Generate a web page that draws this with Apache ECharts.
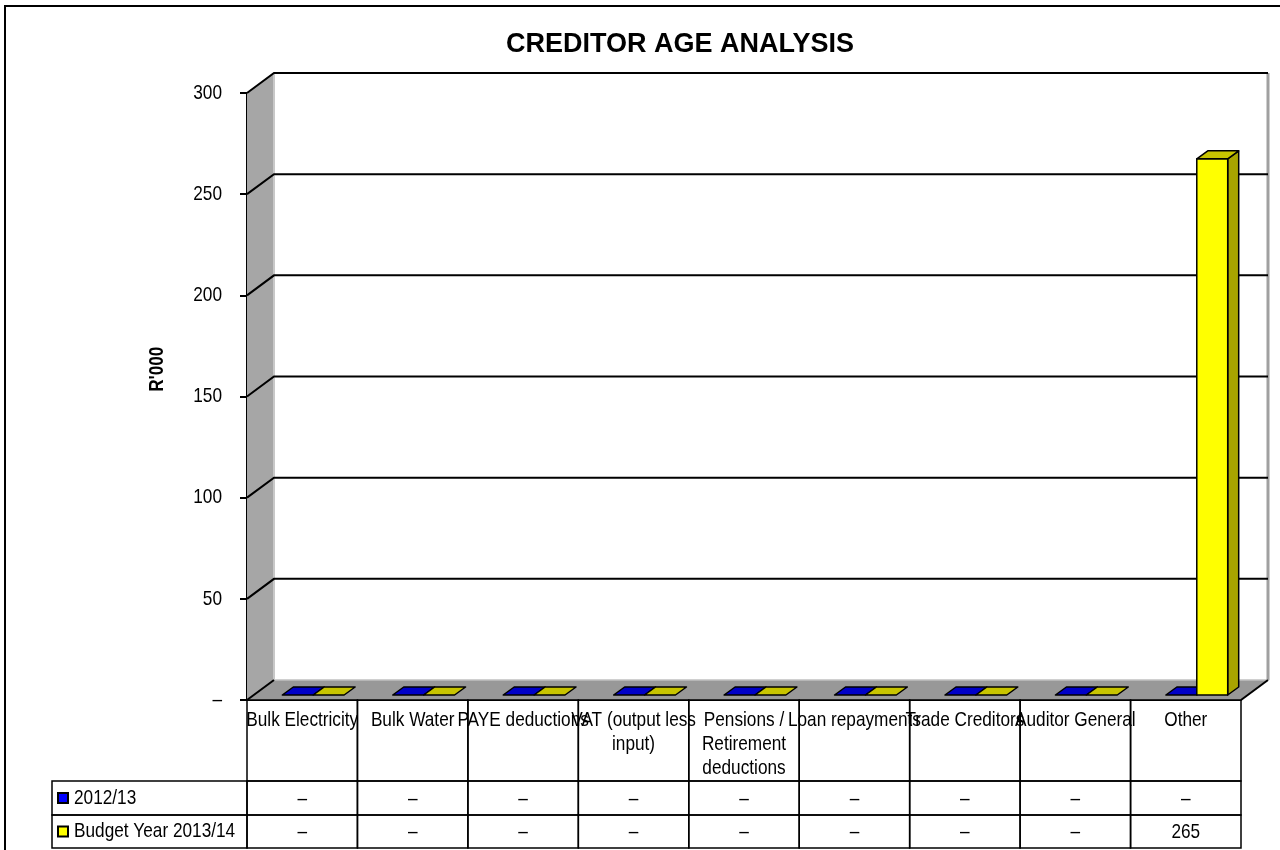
<!DOCTYPE html>
<html>
<head>
<meta charset="utf-8">
<script src="https://cdn.jsdelivr.net/npm/echarts@6/dist/echarts.min.js"></script>
<style>
  html, body { margin: 0; padding: 0; background: #fff; }
  #chart { width: 1280px; height: 850px; }
</style>
</head>
<body>
<div id="chart"></div>
<script>
// ---------- data ----------
const categories = ['Bulk Electricity', 'Bulk Water', 'PAYE deductions', 'VAT (output less input)',
  'Pensions / Retirement deductions', 'Loan repayments', 'Trade Creditors', 'Auditor General', 'Other'];
const categoryLabels = ['Bulk Electricity', 'Bulk Water', 'PAYE deductions', 'VAT (output less\ninput)',
  'Pensions /\nRetirement\ndeductions', 'Loan repayments', 'Trade Creditors', 'Auditor General', 'Other'];
const seriesNames = ['2012/13', 'Budget Year 2013/14'];
const values2012 = [0, 0, 0, 0, 0, 0, 0, 0, 0];
const valuesBudget = [0, 0, 0, 0, 0, 0, 0, 0, 265];
const yTicks = [0, 50, 100, 150, 200, 250, 300];
const titleText = 'CREDITOR AGE ANALYSIS';
const yAxisTitle = "R'000";

// ---------- style constants ----------
const SANS = '"Liberation Sans", Arial, sans-serif';
const NARROW_SCALE = 0.82;     // emulate Arial Narrow
const FONT_PX = 21;
const DEPTH = [27, -20];       // wall depth offset
const BAR_SHIFT = [11, -5];    // bar front plane offset from front
const BAR_DEPTH = [11, -8];    // bar depth
const BAR_FRAC = 0.28;         // bar width as fraction of category band
const LABEL_ROW_H = 81;
const ROW_H = [34, 33];
const HEADER_W = 195;
const colors = [
  { front: '#0000ff', side: '#00007a', top: '#0000c8' },
  { front: '#ffff00', side: '#a8a400', top: '#c8c400' }
];

const fmt = v => (v === 0 ? '–' : String(v));

function ntext(x, y, text, extra) {
  return Object.assign({
    type: 'text', x: x, y: y, scaleX: NARROW_SCALE,
    style: Object.assign({ text: text, fill: '#000', font: FONT_PX + 'px ' + SANS, align: 'center', verticalAlign: 'middle' },
      (extra && extra.style) || {})
  }, (extra && extra.el) || {});
}

const chart = echarts.init(document.getElementById('chart'), null, { renderer: 'canvas' });

function wallsRender(params, api) {
  const cs = params.coordSys;
  const x0 = cs.x, y0 = cs.y, w = cs.width, h = cs.height;
  const dx = DEPTH[0], dy = DEPTH[1];
  return {
    type: 'group',
    children: [
      { type: 'rect', shape: { x: x0 + dx, y: y0 + dy, width: w, height: h }, style: { fill: '#ffffff' } },
      { type: 'polygon', shape: { points: [[x0, y0], [x0 + dx, y0 + dy], [x0 + dx, y0 + h + dy], [x0, y0 + h]] },
        style: { fill: '#a6a6a6' } },
      { type: 'polygon', shape: { points: [[x0, y0 + h], [x0 + dx, y0 + h + dy], [x0 + w + dx, y0 + h + dy], [x0 + w, y0 + h]] },
        style: { fill: '#989898' } },
      { type: 'line', shape: { x1: x0 + dx, y1: y0 + dy, x2: x0 + dx, y2: y0 + h + dy }, style: { stroke: '#c8c8c8', lineWidth: 2 } },
      { type: 'line', shape: { x1: x0 + w + dx, y1: y0 + dy, x2: x0 + w + dx, y2: y0 + h + dy }, style: { stroke: '#a0a0a0', lineWidth: 3 } },
      { type: 'line', shape: { x1: x0 + dx, y1: y0 + h + dy, x2: x0 + w + dx, y2: y0 + h + dy }, style: { stroke: '#c0c0c0', lineWidth: 1.5 } },
      { type: 'line', shape: { x1: x0 + w, y1: y0 + h, x2: x0 + w + dx, y2: y0 + h + dy }, style: { stroke: '#000', lineWidth: 2 } },
      // y axis title
      {
        type: 'text', x: x0 - 90, y: y0 + h * 0.455, rotation: Math.PI / 2, scaleX: NARROW_SCALE,
        style: { text: yAxisTitle, fill: '#000', font: 'bold 21px ' + SANS, align: 'center', verticalAlign: 'middle' }
      }
    ]
  };
}

function gridRender(params, api) {
  const cs = params.coordSys;
  const t = api.value(0);
  const y = api.coord([0, t])[1];
  const x0 = cs.x;
  const pts = t === 0
    ? [[x0, y], [x0 + DEPTH[0], y + DEPTH[1]]]
    : [[x0, y], [x0 + DEPTH[0], y + DEPTH[1]], [x0 + cs.width + DEPTH[0], y + DEPTH[1]]];
  return {
    type: 'group',
    children: [
      { type: 'polyline', shape: { points: pts }, style: { stroke: '#000', lineWidth: 2, fill: null } },
      ntext(x0 - 25, y, fmt(t), { style: { align: 'right' } })
    ]
  };
}

function barRender(k) {
  return function (params, api) {
    const i = api.value(0), v = api.value(1);
    const base = api.coord([i, 0]);
    const top = api.coord([i, v]);
    const bw = api.size([1, 0])[0];
    const barW = bw * BAR_FRAC;
    const x = base[0] + BAR_SHIFT[0] + (k === 0 ? -barW : 0);
    const yb = base[1] + BAR_SHIFT[1];
    const yt = top[1] + BAR_SHIFT[1];
    const dx = BAR_DEPTH[0], dy = BAR_DEPTH[1];
    const c = colors[k];
    const st = { stroke: '#000', lineWidth: 1.5, lineJoin: 'round' };
    const children = [];
    if (yb - yt > 0.5) {
      children.push({ type: 'polygon', shape: { points: [[x + barW, yt], [x + barW + dx, yt + dy], [x + barW + dx, yb + dy], [x + barW, yb]] },
        style: Object.assign({ fill: c.side }, st) });
      children.push({ type: 'rect', shape: { x: x, y: yt, width: barW, height: yb - yt },
        style: Object.assign({ fill: c.front }, st) });
    }
    children.push({ type: 'polygon', shape: { points: [[x, yt], [x + dx, yt + dy], [x + barW + dx, yt + dy], [x + barW, yt]] },
      style: Object.assign({ fill: c.top }, st) });
    return { type: 'group', children: children };
  };
}

function tableRender(params, api) {
  const i = api.value(0);
  const p = api.coord([i, 0]);
  const bw = api.size([1, 0])[0];
  const x = p[0] - bw / 2;
  const children = [];
  // label cell borders
  children.push({ type: 'rect', shape: { x: x, y: p[1], width: bw, height: LABEL_ROW_H },
    style: { fill: null, stroke: '#000', lineWidth: 1.5 } });
  // category label (top of label cell)
  children.push(ntext(p[0], p[1] + 8, categoryLabels[i], { style: { verticalAlign: 'top', lineHeight: 24 } }));
  let y = p[1] + LABEL_ROW_H;
  const vals = [api.value(1), api.value(2)];
  for (let r = 0; r < 2; r++) {
    if (i === 0) {
      const hx = x - HEADER_W;
      children.push({ type: 'rect', shape: { x: hx, y: y, width: HEADER_W, height: ROW_H[r] },
        style: { fill: null, stroke: '#000', lineWidth: 1.5 } });
      children.push({ type: 'rect', shape: { x: hx + 6, y: y + ROW_H[r] / 2 - 5, width: 10, height: 10 },
        style: { fill: colors[r].front, stroke: '#000', lineWidth: 2 } });
      children.push(ntext(hx + 22, y + ROW_H[r] / 2, seriesNames[r], { style: { align: 'left' } }));
    }
    children.push({ type: 'rect', shape: { x: x, y: y, width: bw, height: ROW_H[r] },
      style: { fill: null, stroke: '#000', lineWidth: 1.5 } });
    children.push(ntext(x + bw / 2, y + ROW_H[r] / 2 + 1, fmt(vals[r])));
    y += ROW_H[r];
  }
  return { type: 'group', children: children };
}

const option = {
  backgroundColor: '#ffffff',
  animation: false,
  title: {
    text: titleText,
    left: 675, top: 26, textAlign: 'center',
    textStyle: { fontFamily: SANS, fontWeight: 'bold', fontSize: 27, color: '#000' }
  },
  graphic: [{
    type: 'rect', z: 100, silent: true,
    shape: { x: 5, y: 6, width: 1300, height: 900 }, style: { fill: null, stroke: '#000', lineWidth: 2 }
  }],
  grid: { left: 247, right: 39, top: 93, bottom: 150, containLabel: false },
  xAxis: {
    type: 'category', data: categories,
    axisLine: { show: true, lineStyle: { color: '#000', width: 2 } },
    axisTick: { show: false },
    axisLabel: { show: false },
    splitLine: { show: false }
  },
  yAxis: {
    type: 'value', min: 0, max: 300, interval: 50,
    axisLine: { show: true, lineStyle: { color: '#000', width: 2 } },
    axisTick: { show: true, length: 7, lineStyle: { color: '#000', width: 2 } },
    axisLabel: { show: false },
    splitLine: { show: false }
  },
  series: [
    { type: 'custom', name: 'walls', z: 1, silent: true, renderItem: wallsRender, data: [[0]], clip: false },
    { type: 'custom', name: 'gridlines', z: 2, silent: true, renderItem: gridRender,
      data: yTicks.map(t => [t]), encode: { y: 0 }, clip: false },
    { type: 'custom', name: seriesNames[0], z: 3, color: colors[0].front, renderItem: barRender(0),
      data: values2012.map((v, i) => [i, v]), encode: { x: 0, y: 1 }, clip: false },
    { type: 'custom', name: seriesNames[1], z: 4, color: colors[1].front, renderItem: barRender(1),
      data: valuesBudget.map((v, i) => [i, v]), encode: { x: 0, y: 1 }, clip: false },
    { type: 'custom', name: 'table', z: 5, silent: true, renderItem: tableRender,
      data: categories.map((c, i) => [i, values2012[i], valuesBudget[i]]), encode: { x: 0 }, clip: false }
  ]
};
chart.setOption(option);
</script>
</body>
</html>
